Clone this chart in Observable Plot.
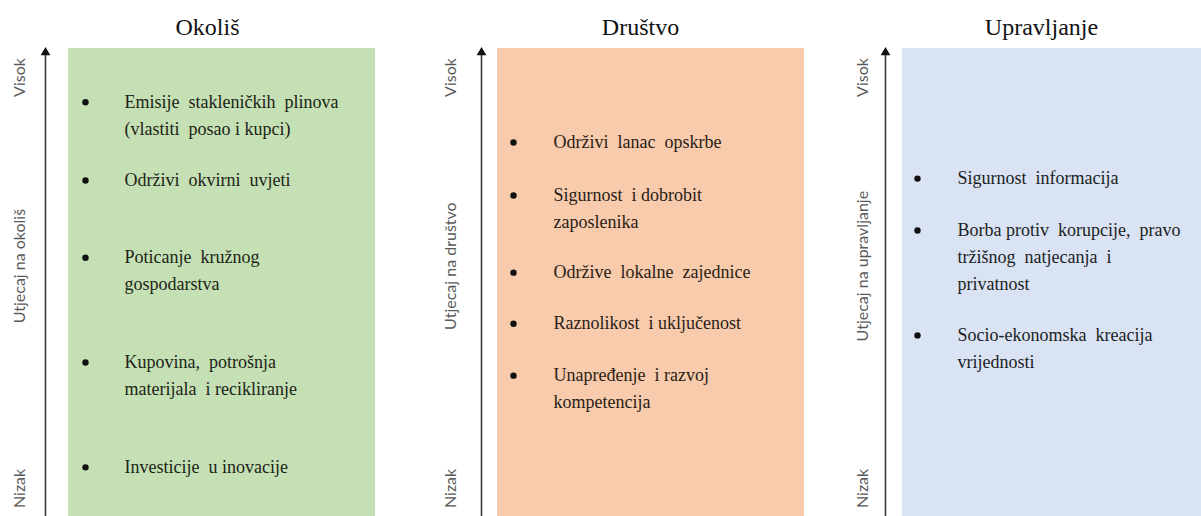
<!DOCTYPE html>
<html><head><meta charset="utf-8">
<script src="https://cdn.jsdelivr.net/npm/d3@7"></script>
<script src="https://cdn.jsdelivr.net/npm/@observablehq/plot@0.6"></script>
<style>
body{margin:0;background:#fff}
svg{display:block}
</style>
</head><body><div id="chart"></div>
<script>
// ---- data ----
const categories = ["Okoliš", "Društvo", "Upravljanje"];
const axisTitles = ["Utjecaj na okoliš", "Utjecaj na društvo", "Utjecaj na upravljanje"];
const levelNames = ["Visok", "Nizak"];
const levelImpact = [93.8, 6.0];
const axisTitleImpact = 53.5;

const itemCategory = [
  "Okoliš", "Okoliš", "Okoliš", "Okoliš", "Okoliš",
  "Društvo", "Društvo", "Društvo", "Društvo", "Društvo",
  "Upravljanje", "Upravljanje", "Upravljanje"
];
const itemLines = [
  ["Emisije  stakleničkih  plinova", "(vlastiti  posao i kupci)"],
  ["Održivi  okvirni  uvjeti"],
  ["Poticanje  kružnog", "gospodarstva"],
  ["Kupovina,  potrošnja", "materijala  i recikliranje"],
  ["Investicije  u inovacije"],
  ["Održivi  lanac  opskrbe"],
  ["Sigurnost  i dobrobit", "zaposlenika"],
  ["Održive  lokalne  zajednice"],
  ["Raznolikost  i uključenost"],
  ["Unapređenje  i razvoj", "kompetencija"],
  ["Sigurnost  informacija"],
  ["Borba protiv  korupcije,  pravo", "tržišnog  natjecanja  i", "privatnost"],
  ["Socio-ekonomska  kreacija", "vrijednosti"]
];
const itemImpact = [88.5, 71.8, 55.3, 32.9, 10.5, 79.9, 68.6, 52.1, 41.2, 30.1, 72.2, 61.1, 38.7];

// ---- layout & style (pixels) ----
const layout = [
  {arrowX: 45,  boxL: 68,  boxR: 375,  bulletX: 85,  textX: 124, titleX: 207,  labelX: 19,  titleDy: 28, fill: "#c5e0b4", ink: "#1c2417"},
  {arrowX: 481, boxL: 497, boxR: 804,  bulletX: 513, textX: 553, titleX: 640,  labelX: 450, titleDy: 28, fill: "#f8cbad", ink: "#2a1d15"},
  {arrowX: 885, boxL: 902, boxR: 1201, bulletX: 917, textX: 957, titleX: 1041, labelX: 862, titleDy: 26, fill: "#dae3f3", ink: "#1b1e24"}
];
const lineStep = 27;
const serif = "Liberation Serif, Times New Roman, serif";
const sans = "Lato, Open Sans, sans-serif";

const P = c => categories.indexOf(c);

const items = itemCategory.map((c, i) => ({c, p: P(c), lines: itemLines[i], impact: itemImpact[i]}));
const lineRows = items.flatMap(d => d.lines.map((t, k) => ({...d, k, t})));
const panels = categories.map((c, i) => ({c, i, axis: axisTitles[i]}));
const levelRows = panels.flatMap(p => levelNames.map((n, j) => ({...p, n, v: levelImpact[j]})));

const marks = [
  Plot.rectY(panels, {x1: d => layout[d.i].boxL, x2: d => layout[d.i].boxR, y1: 0, y2: 100, fill: d => layout[d.i].fill}),
  Plot.ruleX(panels, {x: d => layout[d.i].arrowX, y1: 0, y2: 98.5, stroke: "#3a3a3a", strokeWidth: 1.6}),
  Plot.dot(panels, {x: d => layout[d.i].arrowX, y: 100, dy: 4, symbol: "triangle", r: 3.6, fill: "#111", stroke: "none"}),
  Plot.text(panels, {x: d => layout[d.i].titleX, frameAnchor: "top", dy: 0, text: d => d.c, lineAnchor: "middle",
    fontFamily: serif, fontSize: 24, fill: "#111"}),
  Plot.text(panels, {x: d => layout[d.i].labelX, y: axisTitleImpact, text: d => d.axis, rotate: -90,
    fontFamily: sans, fontSize: 16, fill: "#595959"}),
  Plot.text(levelRows, {x: d => layout[d.i].labelX, y: "v", text: "n", rotate: -90,
    fontFamily: sans, fontSize: 16, fill: "#595959"}),
  Plot.dot(items, {x: d => layout[d.p].bulletX, y: "impact", r: 3.2, fill: "#111", stroke: "none"})
];
for (let k = 0; k < 3; k++) {
  marks.push(Plot.text(lineRows.filter(d => d.k === k), {
    x: d => layout[d.p].textX, y: "impact", dy: k * lineStep, text: "t", textAnchor: "start",
    fontFamily: serif, fontSize: 18, fill: d => layout[d.p].ink
  }));
}
// titles placed by per-panel offset
marks[3] = Plot.text(panels, {x: d => layout[d.i].titleX, y: 100, dy: -21, text: d => d.c,
  fontFamily: serif, fontSize: 24, fill: "#111"});

const chart = Plot.plot({
  width: 1201, height: 516, margin: 0,
  style: {background: "#fff"},
  x: {domain: [0, 1201], range: [0, 1201], axis: null},
  y: {domain: [0, 100], range: [516, 48], axis: null},
  marks
});
document.getElementById("chart").append(chart);
</script>
</body></html>
